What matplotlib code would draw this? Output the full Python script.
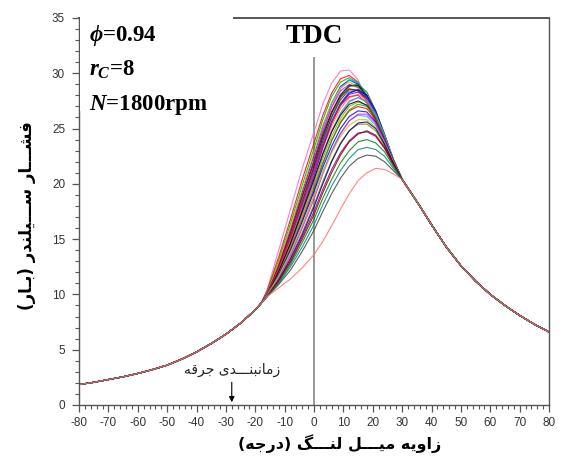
import matplotlib
matplotlib.use('Agg')
import matplotlib.pyplot as plt
from matplotlib.patches import Rectangle
from matplotlib.ticker import MultipleLocator

plt.rcParams['font.family'] = ['Liberation Sans', 'DejaVu Sans']
plt.rcParams['axes.unicode_minus'] = False
plt.rcParams['mathtext.fontset'] = 'custom'
plt.rcParams['mathtext.it'] = 'Liberation Serif:italic:bold'
plt.rcParams['mathtext.rm'] = 'Liberation Serif:bold'

# compression part, same for every cycle (crank angle deg, bar)
head_x = [-80, -75, -70, -65, -60, -55, -50, -45, -40, -35, -30, -25, -20, -18]
head_p = [1.85, 2.05, 2.3, 2.55, 2.85, 3.2, 3.6, 4.15, 4.8, 5.55, 6.4, 7.4, 8.6, 9.2]

# expansion part, all cycles fall on one line after ~30 deg
tail_x = [30, 33, 36, 40, 45, 50, 55, 60, 65, 70, 75, 80]
tail_p = [20.4, 19.2, 18.0, 16.3, 14.3, 12.6, 11.2, 10.0, 9.0, 8.1, 7.3, 6.6]

# combustion part, one list per cycle
mid_x = [-16, -12, -8, -4, 0, 3, 6, 9, 12, 15, 18, 21, 24, 27]
cyc01 = [10.4, 14.0, 17.7, 21.4, 24.7, 27.2, 29.1, 30.2, 30.3, 29.4, 27.6, 25.4, 23.3, 21.6]
cyc02 = [10.3, 13.4, 16.8, 20.4, 23.7, 26.2, 28.2, 29.5, 29.8, 29.2, 27.7, 25.6, 23.6, 21.8]
cyc03 = [10.2, 13.1, 16.4, 19.9, 23.2, 25.8, 27.9, 29.2, 29.6, 29.1, 27.7, 25.7, 23.6, 21.8]
cyc04 = [10.1, 12.8, 15.9, 19.3, 22.6, 25.2, 27.3, 28.8, 29.4, 29.0, 27.7, 25.8, 23.8, 21.9]
cyc05 = [10.0, 12.6, 15.5, 18.8, 22.1, 24.8, 27.0, 28.6, 29.4, 29.2, 28.0, 26.0, 23.9, 21.9]
cyc06 = [10.1, 12.7, 15.7, 19.0, 22.2, 24.8, 26.9, 28.4, 29.0, 28.7, 27.5, 25.7, 23.7, 21.9]
cyc07 = [10.1, 12.9, 16.1, 19.5, 22.8, 25.3, 27.3, 28.7, 29.2, 28.8, 27.5, 25.6, 23.7, 21.8]
cyc08 = [10.0, 12.5, 15.4, 18.7, 21.9, 24.4, 26.5, 28.1, 28.9, 28.8, 27.8, 26.1, 24.1, 22.0]
cyc09 = [10.0, 12.4, 15.2, 18.4, 21.6, 24.2, 26.4, 28.0, 28.9, 28.9, 28.0, 26.3, 24.2, 22.1]
cyc10 = [10.0, 12.4, 15.2, 18.3, 21.4, 23.9, 26.0, 27.6, 28.5, 28.5, 27.7, 26.1, 24.1, 22.0]
cyc11 = [10.0, 12.6, 15.6, 18.9, 22.0, 24.5, 26.5, 27.9, 28.6, 28.4, 27.5, 25.9, 24.0, 22.0]
cyc12 = [9.9, 12.3, 15.0, 18.1, 21.3, 23.9, 26.1, 27.8, 28.8, 29.0, 28.3, 26.6, 24.4, 22.2]
cyc13 = [9.9, 12.2, 14.9, 18.0, 21.1, 23.6, 25.7, 27.3, 28.3, 28.5, 27.9, 26.4, 24.4, 22.2]
cyc14 = [9.9, 12.1, 14.7, 17.7, 20.8, 23.3, 25.5, 27.2, 28.2, 28.5, 28.0, 26.6, 24.5, 22.2]
cyc15 = [9.9, 12.2, 14.8, 17.8, 20.8, 23.2, 25.2, 26.8, 27.8, 28.1, 27.6, 26.2, 24.3, 22.2]
cyc16 = [9.9, 12.0, 14.6, 17.6, 20.7, 23.3, 25.5, 27.1, 28.1, 28.3, 27.8, 26.4, 24.4, 22.2]
cyc17 = [10.0, 12.4, 15.2, 18.2, 21.2, 23.6, 25.6, 27.1, 27.9, 28.0, 27.3, 25.9, 24.0, 22.0]
cyc18 = [9.9, 12.0, 14.5, 17.4, 20.4, 22.8, 24.8, 26.4, 27.5, 27.8, 27.4, 26.1, 24.3, 22.2]
cyc19 = [9.9, 11.9, 14.3, 17.2, 20.1, 22.6, 24.7, 26.3, 27.4, 27.8, 27.5, 26.3, 24.4, 22.2]
cyc20 = [9.9, 11.9, 14.3, 17.1, 19.9, 22.3, 24.3, 25.9, 27.0, 27.4, 27.1, 26.0, 24.3, 22.2]
cyc21 = [9.9, 12.1, 14.6, 17.5, 20.4, 22.7, 24.7, 26.2, 27.2, 27.5, 27.1, 25.9, 24.1, 22.1]
cyc22 = [9.9, 11.8, 14.1, 16.8, 19.6, 21.9, 23.9, 25.5, 26.6, 27.0, 26.8, 25.8, 24.1, 22.1]
cyc23 = [9.9, 11.7, 13.9, 16.6, 19.4, 21.8, 23.9, 25.6, 26.7, 27.2, 27.0, 26.0, 24.2, 22.1]
cyc24 = [9.9, 11.8, 14.0, 16.6, 19.3, 21.5, 23.4, 25.0, 26.1, 26.6, 26.5, 25.6, 24.0, 22.1]
cyc25 = [9.9, 11.6, 13.7, 16.2, 18.9, 21.1, 23.0, 24.6, 25.7, 26.2, 26.1, 25.3, 23.8, 22.0]
cyc26 = [9.8, 11.5, 13.5, 16.0, 18.6, 20.9, 22.9, 24.5, 25.7, 26.3, 26.3, 25.5, 23.9, 22.0]
cyc27 = [9.9, 11.7, 13.8, 16.3, 18.9, 21.0, 22.8, 24.3, 25.3, 25.8, 25.8, 25.1, 23.7, 22.0]
cyc28 = [9.8, 11.4, 13.3, 15.6, 18.1, 20.2, 22.1, 23.7, 24.8, 25.4, 25.4, 24.8, 23.5, 21.9]
cyc29 = [9.8, 11.3, 13.2, 15.4, 17.9, 20.0, 22.0, 23.6, 24.8, 25.5, 25.6, 25.0, 23.6, 21.9]
cyc30 = [9.8, 11.3, 13.0, 15.2, 17.5, 19.5, 21.3, 22.8, 23.9, 24.6, 24.7, 24.3, 23.2, 21.8]
cyc31 = [9.8, 11.2, 12.9, 15.0, 17.2, 19.2, 21.0, 22.6, 23.8, 24.5, 24.8, 24.4, 23.3, 21.8]
cyc32 = [9.8, 11.1, 12.7, 14.7, 16.8, 18.7, 20.4, 21.9, 23.0, 23.8, 24.0, 23.7, 22.9, 21.6]
cyc33 = [9.8, 11.0, 12.5, 14.3, 16.3, 18.1, 19.8, 21.2, 22.3, 23.1, 23.3, 23.1, 22.5, 21.4]
cyc34 = [9.8, 10.9, 12.2, 13.9, 15.8, 17.5, 19.1, 20.5, 21.6, 22.3, 22.6, 22.5, 22.0, 21.2]
cyc35 = [9.8, 10.6, 11.4, 12.4, 13.6, 14.8, 16.2, 17.7, 19.1, 20.3, 21.0, 21.4, 21.3, 20.9]

cycles = [cyc01, cyc02, cyc03, cyc04, cyc05, cyc06, cyc07, cyc08, cyc09, cyc10,
          cyc11, cyc12, cyc13, cyc14, cyc15, cyc16, cyc17, cyc18, cyc19, cyc20,
          cyc21, cyc22, cyc23, cyc24, cyc25, cyc26, cyc27, cyc28, cyc29, cyc30,
          cyc31, cyc32, cyc33, cyc34, cyc35]

tdc_angle = 0
tdc_top = 31.5
spark_angle = -28

# Origin-like line colours
palette = ['#000000', '#ff0000', '#00b000', '#0000ff', '#00c0c0', '#ff00ff',
           '#d0c000', '#808000', '#000080', '#800080', '#800000', '#008000',
           '#008080', '#0000a0', '#ff8000', '#8000ff', '#ff0080', '#808080',
           '#40a0ff', '#a0a000']

fig = plt.figure(figsize=(5.62, 4.61), dpi=100)
ax = fig.add_axes([0.1406, 0.1215, 0.8363, 0.8395])

for i, cyc in enumerate(cycles):
    col = palette[i % len(palette)]
    if i == 0:
        col = '#f070c0'
    elif i == len(cycles) - 2:
        col = '#404040'
    elif i == len(cycles) - 1:
        col = '#ff7070'
    ax.plot(head_x + mid_x + tail_x, head_p + cyc + tail_p, color=col, lw=0.8, alpha=0.85)

ax.vlines(tdc_angle, 0, tdc_top, color='#888888', lw=1.2, zorder=1)
ax.text(tdc_angle, 0.951, 'TDC', transform=ax.get_xaxis_transform(), ha='center', va='center',
        fontsize=19.5, fontweight='bold', family='Liberation Serif')

ax.annotate('', xy=(spark_angle, 0), xytext=(spark_angle, 2.3),
            arrowprops=dict(arrowstyle='-|>', color='black', lw=0.8, mutation_scale=8))
# "zamanbandi jaraghe" (spark timing), shaped by hand
ax.text(spark_angle, 3.2, 'ﻪﻗﺮﺟ ﯼﺪـــﻨﺒﻧﺎﻣﺯ', ha='center', va='center', fontsize=10,
        family=['DejaVu Sans'], color='#222222')

# white box behind the parameters (it hides part of the top frame)
ax.add_patch(Rectangle((0.003, 0.76), 0.325, 0.26, transform=ax.transAxes, facecolor='white',
                       edgecolor='none', zorder=4, clip_on=False))
ax.text(0.021, 0.956, r'$\phi$=0.94', transform=ax.transAxes, va='center', fontsize=16.5,
        fontweight='bold', family='Liberation Serif', zorder=5)
ax.text(0.021, 0.866, r'$r_C$=8', transform=ax.transAxes, va='center', fontsize=16.5,
        fontweight='bold', family='Liberation Serif', zorder=5)
ax.text(0.021, 0.775, r'$N$=1800rpm', transform=ax.transAxes, va='center', fontsize=16.5,
        fontweight='bold', family='Liberation Serif', zorder=5)

ax.set_xlim(-80, 80)
ax.set_ylim(0, 35)
ax.xaxis.set_major_locator(MultipleLocator(10))
ax.xaxis.set_minor_locator(MultipleLocator(2))
ax.yaxis.set_major_locator(MultipleLocator(5))
ax.yaxis.set_minor_locator(MultipleLocator(1))
ax.tick_params(which='major', direction='out', length=5, width=0.9, color='#555555',
               labelsize=8.5, labelcolor='#333333')
ax.tick_params(which='minor', direction='out', length=3, width=0.8, color='#555555')
ax.tick_params(axis='x', pad=4)
ax.tick_params(axis='y', pad=5)
for s in ax.spines.values():
    s.set_color('#555555')
    s.set_linewidth(1.0)
ax.spines['top'].set_linewidth(1.4)

# "zaviye mil lang (daraje)" and "feshar silandr (bar)"
ax.set_xlabel('(ﻪﺟﺭﺩ) ﮓـــﻨﻟ ﻞـــﯿﻣ ﻪﯾﻭﺍﺯ', fontsize=11.5, fontweight='bold',
              family=['DejaVu Sans'], va='center')
ax.xaxis.set_label_coords(0.555, -0.10)
ax.set_ylabel('(ﺭﺎـﺑ) ﺭﺪﻨﻠﯿـــﺳ ﺭﺎـــﺸﻓ', fontsize=12, fontweight='bold',
              family=['DejaVu Sans'], va='center')
ax.yaxis.set_label_coords(-0.11, 0.49)

fig.savefig('out.png', dpi=100)
